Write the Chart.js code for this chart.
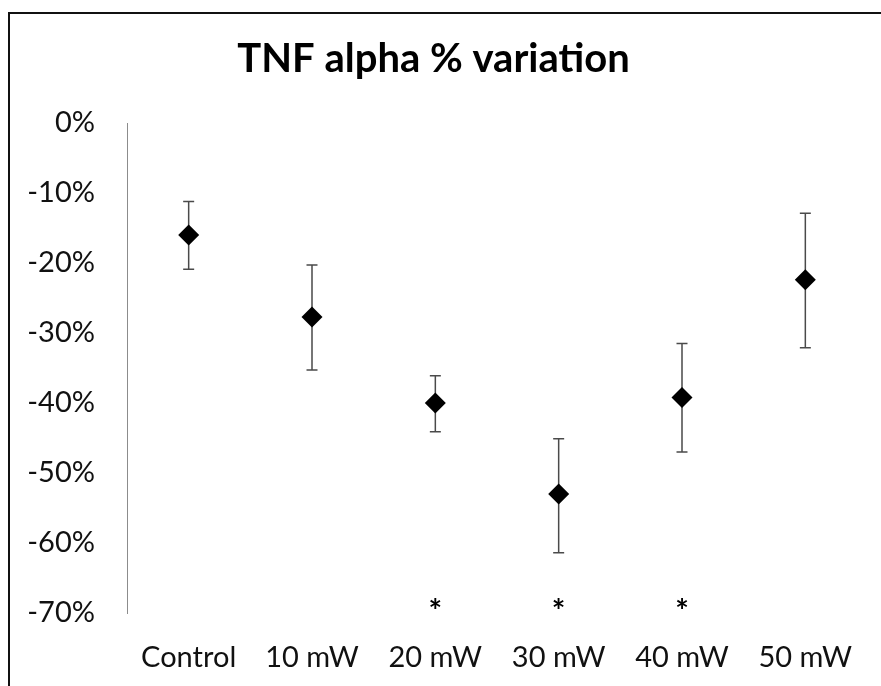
<!DOCTYPE html>
<html>
<head>
<meta charset="utf-8">
<script src="https://cdn.jsdelivr.net/npm/chart.js@4.4.1/dist/chart.umd.min.js"></script>
<style>
  html, body { margin: 0; padding: 0; background: #fff; overflow: hidden; }
  #wrap { position: relative; width: 881px; height: 686px; }
  #frame { position: absolute; left: 8px; top: 12px; width: 900px; height: 700px;
           border: 2px solid #111; pointer-events: none; }
</style>
</head>
<body>
<div id="wrap">
  <canvas id="tnfChart" width="881" height="686"></canvas>
  <div id="frame"></div>
</div>
<script>
// values (%)
const categories = ['Control', '10 mW', '20 mW', '30 mW', '40 mW', '50 mW'];
const meanValues = [-16.0, -27.7, -40.0, -53.0, -39.2, -22.4];
const upperValues = [-11.2, -20.3, -36.1, -45.1, -31.5, -12.9];
const lowerValues = [-20.9, -35.3, -44.1, -61.4, -47.0, -32.1];
const starCategories = ['20 mW', '30 mW', '40 mW'];
const starValue = -69;
const yMin = -70, yMax = 0, yStep = 10;

// error bars, drawn under the diamonds
const errorBars = {
    id: 'errorBars',
    beforeDatasetsDraw(chart) {
        const ctx = chart.ctx;
        const x = chart.scales.x, y = chart.scales.y;
        ctx.save();
        ctx.strokeStyle = '#4a4a4a';
        ctx.lineWidth = 1.5;
        categories.forEach(function(c, i) {
            let px = x.getPixelForValue(i);
            let top = y.getPixelForValue(upperValues[i]);
            let bot = y.getPixelForValue(lowerValues[i]);
            ctx.beginPath();
            ctx.moveTo(px, top); ctx.lineTo(px, bot);
            ctx.moveTo(px - 5.5, top); ctx.lineTo(px + 5.5, top);
            ctx.moveTo(px - 5.5, bot); ctx.lineTo(px + 5.5, bot);
            ctx.stroke();
        });
        ctx.restore();
    }
};

// significance stars
const stars = {
    id: 'stars',
    afterDatasetsDraw(chart) {
        const ctx = chart.ctx;
        const x = chart.scales.x, y = chart.scales.y;
        ctx.save();
        ctx.fillStyle = '#000';
        ctx.font = 'bold 32px Lato';
        ctx.textAlign = 'center';
        ctx.textBaseline = 'middle';
        starCategories.forEach(function(c) {
            let px = x.getPixelForValue(categories.indexOf(c));
            ctx.fillText('*', px, y.getPixelForValue(starValue) + 7);
        });
        ctx.restore();
    }
};

new Chart(document.getElementById('tnfChart').getContext('2d'), {
    type: 'line',
    data: {
        labels: categories,
        datasets: [{
            label: 'TNF alpha',
            data: meanValues,
            showLine: false,
            pointStyle: 'rectRot',
            pointRadius: 10.5,
            pointBackgroundColor: '#000',
            pointBorderColor: '#000',
            pointBorderWidth: 0
        }]
    },
    options: {
        responsive: false,
        animation: false,
        layout: { padding: { left: 0, right: 14, top: 0, bottom: 0 } },
        plugins: {
            legend: { display: false },
            tooltip: { enabled: false },
            title: {
                display: true,
                text: 'TNF alpha % variation',
                color: '#000',
                font: { family: 'Lato', size: 40, weight: 'bold', lineHeight: 1.2 },
                padding: { top: 35, bottom: 40 }
            }
        },
        scales: {
            x: {
                offset: true,
                grid: { display: false, drawTicks: false },
                border: { display: false },
                ticks: { color: '#111', font: { family: 'Lato', size: 29 }, padding: 27, maxRotation: 0 },
                afterFit(s) { s.height = 73; }
            },
            y: {
                min: yMin, max: yMax,
                grid: { display: false, drawTicks: false },
                border: { display: true, color: '#8c8c8c', width: 1 },
                ticks: {
                    stepSize: yStep,
                    color: '#111',
                    font: { family: 'Lato', size: 29 },
                    padding: 32,
                    callback: function(v) { return v + '%'; }
                },
                afterFit(s) { s.width = 127; }
            }
        }
    },
    plugins: [errorBars, stars]
});
</script>
</body>
</html>
